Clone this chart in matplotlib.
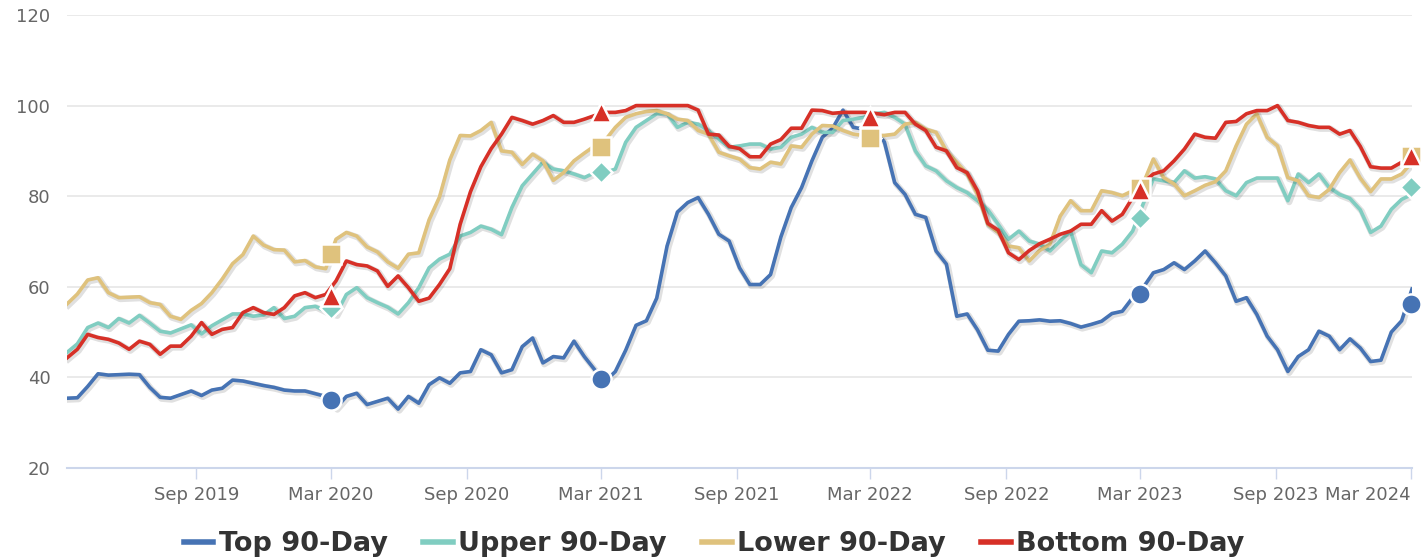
import numpy as np
import pandas as pd
import matplotlib
matplotlib.use("Agg")
import matplotlib.pyplot as plt
import matplotlib.patheffects as pe

# biweekly readings, Mar 2019 - Mar 2024
dates = pd.date_range("2019-03-10", periods=131, freq="14D")

top = [
    35.4, 35.5, 38.0, 40.8, 40.5, 40.6, 40.7, 40.6, 37.8, 35.6,
    35.4, 36.2, 37.0, 36.0, 37.2, 37.6, 39.4, 39.2, 38.7, 38.2,
    37.8, 37.2, 37.0, 37.0, 36.4, 35.8, 33.2, 35.8, 36.5, 34.0,
    34.7, 35.4, 33.0, 35.8, 34.3, 38.4, 39.9, 38.7, 41.0, 41.3,
    46.1, 45.0, 41.0, 41.7, 46.8, 48.7, 43.2, 44.6, 44.3, 48.0,
    44.6, 41.7, 39.1, 41.3, 46.0, 51.5, 52.5, 57.5, 69.0, 76.5,
    78.6, 79.7, 76.0, 71.6, 70.1, 64.2, 60.5, 60.5, 62.7, 71.0,
    77.5, 81.9, 87.8, 93.0, 95.0, 99.0, 95.2, 94.8, 94.5, 92.0,
    83.0, 80.4, 76.0, 75.3, 67.9, 65.0, 53.5, 54.0, 50.5, 46.0,
    45.8, 49.5, 52.4, 52.5, 52.7, 52.4, 52.5, 51.9, 51.1, 51.7,
    52.4, 54.1, 54.6, 57.6, 59.8, 63.1, 63.8, 65.3, 63.8, 65.7,
    67.9, 65.3, 62.4, 56.8, 57.6, 53.9, 49.1, 46.1, 41.3, 44.6,
    46.1, 50.2, 49.1, 46.1, 48.5, 46.5, 43.5, 43.8, 50.0, 52.5,
    59.5,
]
upper = [
    45.5, 47.4, 51.0, 52.0, 51.0, 53.0, 52.0, 53.7, 52.0, 50.2,
    49.8, 50.7, 51.6, 49.6, 51.4, 52.7, 54.0, 54.0, 53.5, 53.8,
    55.4, 53.0, 53.5, 55.4, 55.7, 54.6, 53.9, 58.3, 59.8, 57.6,
    56.5, 55.5, 54.0, 56.5, 59.8, 64.2, 66.1, 67.2, 71.2, 72.0,
    73.4, 72.7, 71.5, 77.5, 82.3, 84.9, 87.5, 86.0, 85.6, 84.9,
    84.1, 85.2, 85.2, 86.0, 91.9, 95.2, 96.7, 98.2, 98.2, 95.2,
    96.3, 95.9, 94.5, 92.6, 90.8, 91.1, 91.5, 91.5, 90.4, 90.8,
    93.0, 93.7, 95.2, 94.1, 94.1, 96.7, 97.0, 97.4, 98.2, 98.5,
    97.4, 95.9, 90.0, 86.7, 85.6, 83.4, 81.9, 80.8, 79.0, 77.0,
    73.8, 70.5, 72.3, 70.1, 69.4, 67.9, 70.1, 72.3, 64.9, 63.1,
    67.9, 67.5, 69.4, 72.3, 78.2, 83.8, 83.4, 83.0, 85.6, 84.0,
    84.3, 83.8, 81.2, 80.1, 83.0, 84.0, 84.0, 84.0, 79.0, 84.9,
    83.0, 84.9, 81.9, 80.4, 79.5, 77.0, 72.0, 73.4, 77.1, 79.3,
    80.4,
]
lower = [
    56.2, 58.4, 61.5, 62.0, 58.7, 57.6, 57.7, 57.8, 56.5, 56.1,
    53.5, 52.8, 54.8, 56.3, 58.7, 61.7, 65.1, 67.1, 71.2, 69.2,
    68.2, 68.1, 65.5, 65.8, 64.4, 64.0, 70.5, 72.0, 71.2, 68.8,
    67.7, 65.5, 64.1, 67.2, 67.5, 74.8, 79.8, 88.0, 93.4, 93.3,
    94.5, 96.3, 90.0, 89.7, 87.0, 89.3, 87.8, 83.5, 85.2, 87.8,
    89.5, 91.1, 92.3, 95.2, 97.4, 98.2, 98.7, 98.9, 98.2, 97.0,
    96.7, 94.5, 93.7, 89.7, 88.9, 88.2, 86.3, 86.0, 87.5, 87.1,
    91.1, 90.8, 93.7, 95.6, 95.5, 94.5, 93.7, 93.4, 93.4, 93.4,
    93.7, 95.9, 96.3, 94.8, 94.1, 90.0, 87.5, 84.9, 80.4, 73.8,
    72.0, 69.0, 68.6, 65.7, 68.0, 69.4, 75.6, 79.0, 76.8, 76.8,
    81.2, 80.8, 80.1, 81.2, 82.7, 88.2, 84.1, 82.7, 80.1, 81.2,
    82.4, 83.2, 85.6, 91.1, 95.9, 98.2, 93.0, 91.1, 84.1, 83.4,
    80.1, 79.7, 81.5, 85.2, 88.0, 84.0, 81.0, 83.8, 83.8, 84.9,
    87.5,
]
bottom = [
    44.3, 46.2, 49.5, 48.8, 48.4, 47.6, 46.2, 48.0, 47.3, 45.1,
    46.9, 46.9, 49.1, 52.1, 49.5, 50.6, 51.0, 54.3, 55.4, 54.3,
    53.9, 55.4, 58.0, 58.7, 57.6, 58.3, 61.3, 65.7, 64.9, 64.6,
    63.5, 60.1, 62.4, 59.8, 56.8, 57.5, 60.5, 64.0, 73.8, 81.0,
    86.5, 90.5, 93.7, 97.4, 96.7, 95.9, 96.7, 97.8, 96.3, 96.3,
    97.0, 97.8, 98.5, 98.5, 98.9, 100.0, 100.0, 100.0, 100.0, 100.0,
    100.0, 99.0, 93.7, 93.5, 91.0, 90.5, 88.7, 88.7, 91.5, 92.5,
    95.0, 95.0, 99.0, 98.9, 98.3, 98.5, 98.5, 98.5, 98.3, 98.0,
    98.5, 98.5, 95.9, 94.5, 90.8, 90.0, 86.3, 85.2, 81.2, 74.0,
    72.5, 67.5, 66.0, 68.0, 69.5, 70.5, 71.6, 72.3, 73.8, 73.8,
    76.8, 74.5, 76.0, 79.7, 83.0, 84.9, 85.6, 87.8, 90.4, 93.7,
    93.0, 92.8, 96.3, 96.5, 98.2, 98.9, 98.9, 100.0, 96.7, 96.3,
    95.6, 95.2, 95.2, 93.7, 94.5, 91.0, 86.5, 86.2, 86.2, 87.5,
    88.9,
]

# yearly snapshot markers
mark_dates = pd.to_datetime(["2020-03-01", "2021-03-01", "2022-03-01", "2023-03-01", "2024-03-01"])
top_marks = [35.0, 39.6, 92.8, 58.5, 56.3]
upper_marks = [55.3, 85.3, 92.8, 75.1, 82.1]
lower_marks = [67.3, 90.9, 92.8, 81.8, 88.9]
bottom_marks = [58.0, 98.5, 97.5, 81.4, 88.8]

tick_dates = pd.to_datetime(["2019-09-01", "2020-03-01", "2020-09-01", "2021-03-01", "2021-09-01",
                             "2022-03-01", "2022-09-01", "2023-03-01", "2023-09-01", "2024-03-01"])
tick_labels = ["Sep 2019", "Mar 2020", "Sep 2020", "Mar 2021", "Sep 2021",
               "Mar 2022", "Sep 2022", "Mar 2023", "Sep 2023", "Mar 2024"]

series = [
    ("Top 90-Day", top, top_marks, "#4673b4", "o", 14.5),
    ("Upper 90-Day", upper, upper_marks, "#80cdc1", "D", 11),
    ("Lower 90-Day", lower, lower_marks, "#dfc27d", "s", 14),
    ("Bottom 90-Day", bottom, bottom_marks, "#d73027", "^", 15),
]

fig = plt.figure(figsize=(14.28, 5.58), dpi=100)
ax = fig.add_axes([67 / 1428, 1 - 468 / 558, 1345 / 1428, 453 / 558])

shadow = [pe.SimpleLineShadow(offset=(1, -1), shadow_color="k", alpha=0.12, linewidth=4.5), pe.Normal()]

for name, vals, marks, color, mk, ms in series:
    ax.plot(dates, vals, color=color, lw=2.6, label=name, solid_joinstyle="round",
            path_effects=shadow, zorder=3)

for name, vals, marks, color, mk, ms in series:
    ax.plot(mark_dates, marks, ls="none", marker=mk, ms=ms, color=color,
            mec="white", mew=1.8, clip_on=False, zorder=5)

ax.set_ylim(20, 120)
ax.set_yticks(np.arange(20, 121, 20))
ax.set_xlim(dates[0], dates[-1])
ax.set_xticks(tick_dates, tick_labels)
# last label pulled inside the plot edge
ax.get_xticklabels()[-1].set_horizontalalignment("right")

ax.grid(axis="y", color="#e6e6e6", lw=1.2)
ax.set_axisbelow(True)
for side in ["top", "right", "left"]:
    ax.spines[side].set_visible(False)
ax.spines["bottom"].set_color("#ccd6eb")
ax.spines["bottom"].set_linewidth(1.5)
ax.tick_params(axis="y", length=0, pad=12, labelsize=13, labelcolor="#666666")
ax.tick_params(axis="x", length=8, width=1, color="#ccd6eb", pad=5, labelsize=13, labelcolor="#666666")

leg = fig.legend(loc="center", bbox_to_anchor=(0.5, 1 - 544 / 558), ncol=4, frameon=False,
                 handlelength=1.1, handletextpad=0.2, columnspacing=1.3,
                 prop={"size": 19.5, "weight": "bold"})
for t in leg.get_texts():
    t.set_color("#333333")
for h in leg.get_lines():
    h.set_linewidth(4)
    h.set_path_effects([])

fig.savefig("out.png", dpi=100)
